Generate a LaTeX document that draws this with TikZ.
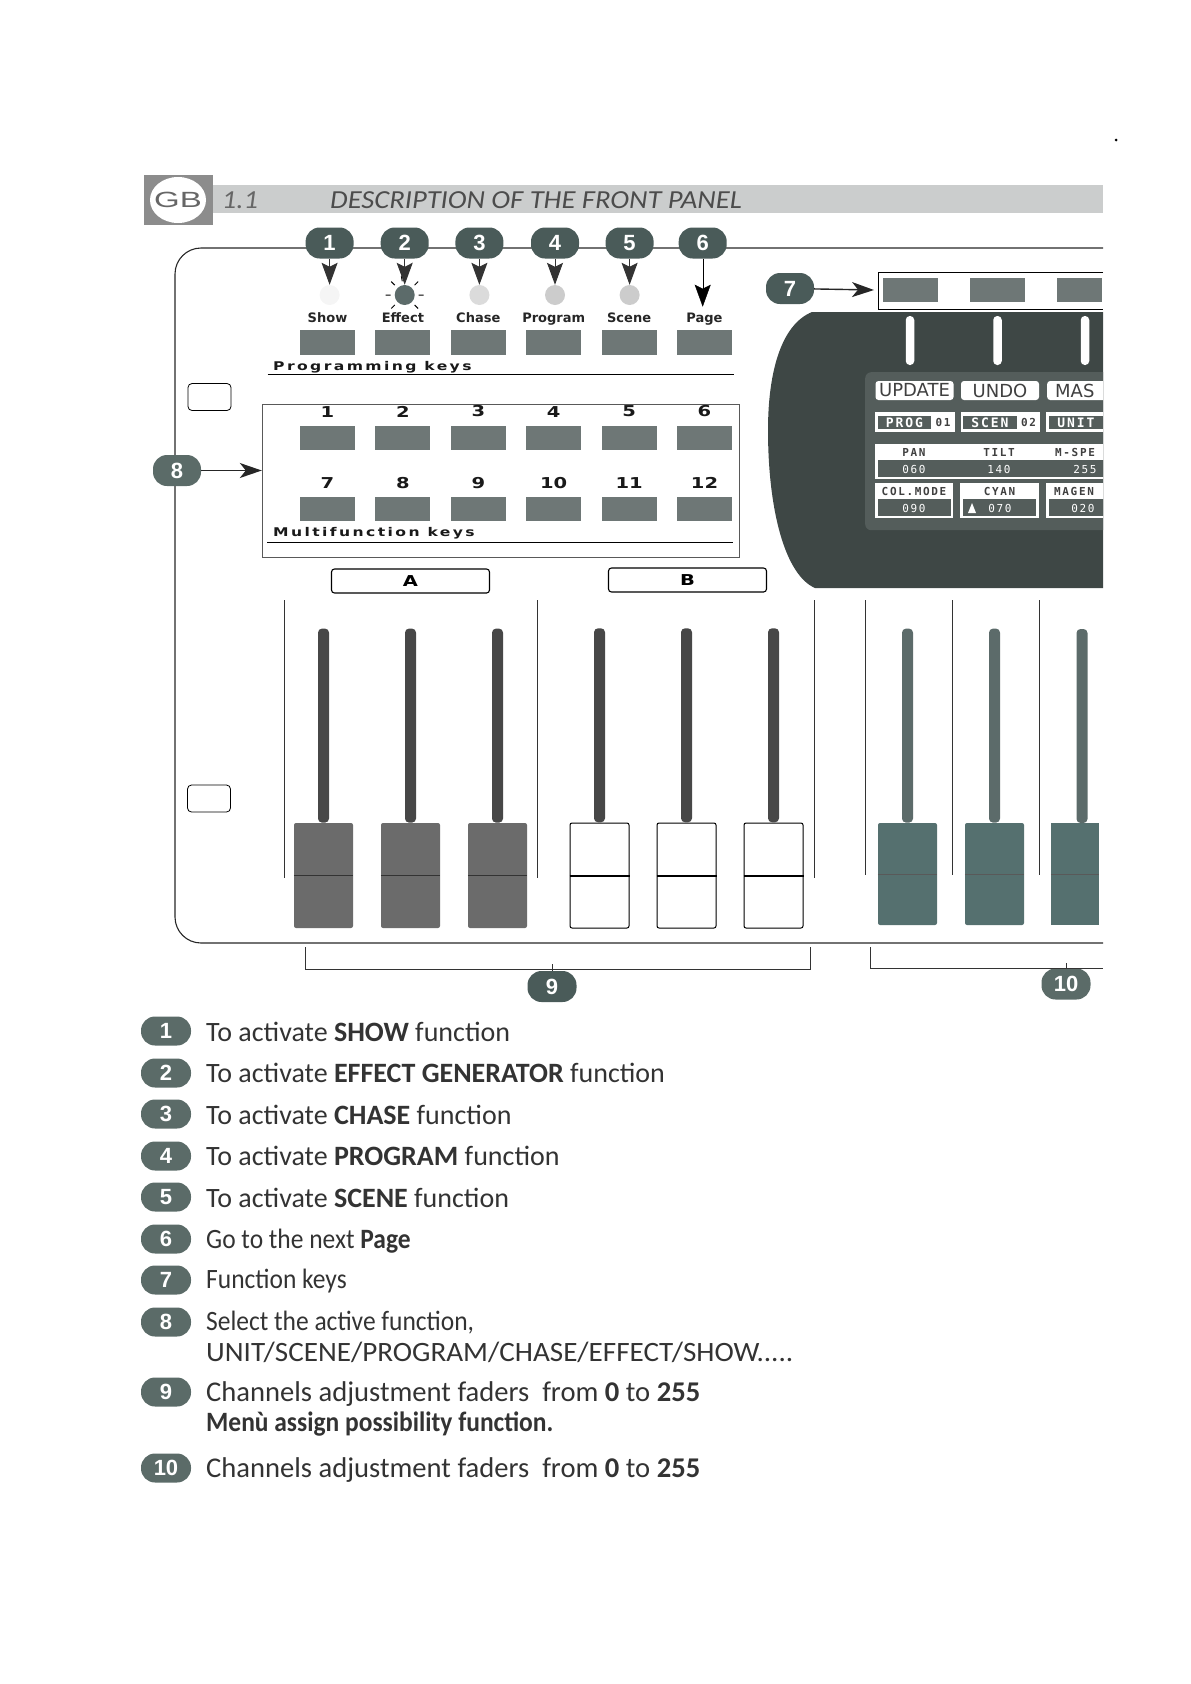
\documentclass[tikz,border=0pt]{standalone}
\usepackage{fontspec}
\usetikzlibrary{arrows.meta,positioning,shapes.geometric}
\setmainfont{Carlito}
\newfontfamily\badgefont{Liberation Sans}
\newfontfamily\keyfont[FakeStretch=1.3]{DejaVu Sans}
\newfontfamily\namefont{DejaVu Sans}
\newfontfamily\capfont[FakeStretch=1.3,LetterSpace=20]{DejaVu Sans}
\newfontfamily\lcdfont[LetterSpace=15]{DejaVu Sans Mono}
\newfontfamily\softfont{DejaVu Sans}
\newfontfamily\gbfont[FakeStretch=1.5]{Liberation Sans}
\newfontfamily\titlefont[FakeStretch=1.1]{Carlito}
\newfontfamily\narrowfont[FakeStretch=0.91]{Carlito}
\newfontfamily\widefont[FakeStretch=1.04]{Carlito}
\definecolor{slate}{HTML}{4A5B59}
\definecolor{legendslate}{HTML}{5B6B68}
\definecolor{keygray}{HTML}{6E7776}
\definecolor{band}{HTML}{CBCDCD}
\definecolor{bodydark}{HTML}{3E4745}
\definecolor{screendark}{HTML}{545D5B}
\definecolor{tealknob}{HTML}{55706F}

\begin{document}
\begin{tikzpicture}[x=1pt,y=-1pt,
          badge/.style={fill=slate, rounded corners=14pt, minimum width=48pt, minimum height=31pt, inner sep=0pt, text=white, font=\badgefont\bfseries\fontsize{22}{22}\selectfont},
          legendbadge/.style={badge, fill=legendslate, minimum width=50pt, minimum height=29pt},
          legendtext/.style={inner sep=0pt, anchor=west, text=black!80, font=\fontsize{28}{32}\selectfont},
          callout/.style={-{Stealth[length=22pt,width=16pt,inset=4pt]}, line width=1pt, draw=black!80},
          sidearrow/.style={-{Stealth[length=22pt,width=15pt,inset=6pt]}, line width=1.4pt, draw=black!85},
          keycap/.style={fill=keygray, minimum width=55pt, minimum height=24pt, inner sep=0pt},
          lamp/.style={circle, inner sep=0pt, minimum size=20pt},
          keyname/.style={inner sep=0pt, text height=10pt, text depth=3pt, text=black!85, font=\namefont\bfseries\fontsize{13}{13}\selectfont},
          keynum/.style={inner sep=0pt, text=black!90, font=\keyfont\bfseries\fontsize{15}{15}\selectfont},
          caption/.style={inner sep=0pt, anchor=west, text=black!90, font=\capfont\bfseries\fontsize{12}{12}\selectfont},
          slot/.style={draw=black, rounded corners=4pt, thick, minimum width=43pt, minimum height=27pt, inner sep=0pt},
          bank/.style={draw=black, rounded corners=3pt, line width=1.1pt, minimum width=158pt, minimum height=24pt, inner sep=0pt, font=\keyfont\bfseries\fontsize{15}{15}\selectfont},
          knob/.style={rounded corners=2pt, minimum width=59pt, minimum height=105pt, inner sep=0pt},
          track/.style={rounded corners=4pt, minimum width=11pt, minimum height=194pt, inner sep=0pt},
          sepline/.style={draw=black!80, line width=0.8pt},
          softkey/.style={fill=white, rounded corners=3pt, minimum width=78pt, minimum height=19pt, inner sep=0pt, text=black!75, font=\softfont\fontsize{18}{18}\selectfont},
          lcdlabel/.style={inner sep=0pt, text=black!75, font=\lcdfont\bfseries\fontsize{11}{11}\selectfont},
          lcdvalue/.style={inner sep=0pt, text=white, font=\lcdfont\fontsize{11}{11}\selectfont}]
        \useasboundingbox (0,0) rectangle (1191,1684);
        % title strip
        \node[fill=band, minimum width=891pt, minimum height=28pt, inner sep=0pt, anchor=west] (strip) at (212,199) {};
        \node[fill=black!45, minimum width=69pt, minimum height=50pt, inner sep=0pt] (gbbox) at (178,200) {};
        \node[ellipse, fill=white, minimum width=56pt, minimum height=46pt, inner sep=0pt] (gbdisc) at (178,200) {};
        \node[text=black!60, font=\gbfont\fontsize{22}{22}\selectfont] (gb) at (178,200) {GB};
        \node[text=black!60, font=\titlefont\itshape\fontsize{26}{26}\selectfont, inner sep=0pt] (secnum) at (240,200) {1.1};
        \node[text=black!70, font=\titlefont\itshape\fontsize{26}{26}\selectfont, inner sep=0pt, anchor=west] (sectitle) at (330,200) {DESCRIPTION OF THE FRONT PANEL};
        \fill[black] (1116,140) circle (1.5);
        % panel edge
        \draw[line width=1.1pt, draw=black!85] (1103,248) -- (205,248) [rounded corners=26pt] -- (175,248) -- (175,943) -- (1103,943);
        \node[slot] (hole1) at (209.5,397) {};
        \node[slot] (hole2) at (209,798.5) {};
        % programming keys
        \node[badge] (b1) at (329.6,243) {1};
        \node[badge] (b2) at (404.7,243) {2};
        \node[badge] (b3) at (479.4,243) {3};
        \node[badge] (b4) at (555,243) {4};
        \node[badge] (b5) at (629.6,243) {5};
        \node[badge] (b6) at (702.7,243) {6};
        \node[lamp, fill=black!4] (led1) at (329.6,295) {};
        \node[lamp, fill=slate!90] (led2) at (404.7,295) {};
        \node[lamp, fill=black!14] (led3) at (479.4,295) {};
        \node[lamp, fill=black!20] (led4) at (555,295) {};
        \node[lamp, fill=black!20] (led5) at (629.6,295) {};
        \draw[line width=1pt] (led2) ++(0:14) -- ++(0:5) (led2) ++(45:14) -- ++(45:5) (led2) ++(135:14) -- ++(135:5) (led2) ++(180:14) -- ++(180:5) (led2) ++(225:14) -- ++(225:5) (led2) ++(315:14) -- ++(315:5) (led2) ++(260:14) -- ++(260:5);
        \node[keycap, minimum height=25pt] (p1) at (327.5,342.5) {};
        \node[keycap, minimum height=25pt, right=20pt of p1] (p2) {};
        \node[keycap, minimum height=25pt, right=20pt of p2] (p3) {};
        \node[keycap, minimum height=25pt, right=20pt of p3] (p4) {};
        \node[keycap, minimum height=25pt, right=20pt of p4] (p5) {};
        \node[keycap, minimum height=25pt, right=20pt of p5] (p6) {};
        \node[keyname, above=3.7pt of p1] (nshow) {Show};
        \node[keyname, above=3.7pt of p2] (neffect) {Effect};
        \node[keyname, above=3.7pt of p3] (nchase) {Chase};
        \node[keyname, above=3.7pt of p4] (nprogram) {Program};
        \node[keyname, above=3.7pt of p5] (nscene) {Scene};
        \node[keyname, above=3.7pt of p6] (npage) {Page};
        \draw[callout] (b1) -- (led1.north);
        \draw[callout] (b2) -- (led2.north);
        \draw[callout] (b3) -- (led3.north);
        \draw[callout] (b4) -- (led4.north);
        \draw[callout] (b5) -- (led5.north);
        \draw[callout, thin, draw=black, shorten >=6pt] (b6) -- (b6 |- npage.north);
        \node[caption] (progcap) at (273,367) {Programming keys};
        \coordinate (proglineL) at (267.5,374);
        \coordinate (proglineR) at (734,374);
        \draw[line width=0.9pt] (proglineL) -- (proglineR);
        % multifunction keys
        \node[draw=black!65, minimum width=477pt, minimum height=153pt, inner sep=0pt] (mbox) at (500.5,480.5) {};
        \node[keycap] (m1) at (327.5,437.5) {};
        \node[keycap, right=20pt of m1] (m2) {};
        \node[keycap, right=20pt of m2] (m3) {};
        \node[keycap, right=20pt of m3] (m4) {};
        \node[keycap, right=20pt of m4] (m5) {};
        \node[keycap, right=20pt of m5] (m6) {};
        \node[keycap] (m7) at (327.5,509) {};
        \node[keycap, right=20pt of m7] (m8) {};
        \node[keycap, right=20pt of m8] (m9) {};
        \node[keycap, right=20pt of m9] (m10) {};
        \node[keycap, right=20pt of m10] (m11) {};
        \node[keycap, right=20pt of m11] (m12) {};
        \node[keynum, above=8pt of m1] (n1) {1};
        \node[keynum, above=8pt of m2] (n2) {2};
        \node[keynum, above=8pt of m3] (n3) {3};
        \node[keynum, above=8pt of m4] (n4) {4};
        \node[keynum, above=8pt of m5] (n5) {5};
        \node[keynum, above=8pt of m6] (n6) {6};
        \node[keynum, above=8pt of m7] (n7) {7};
        \node[keynum, above=8pt of m8] (n8) {8};
        \node[keynum, above=8pt of m9] (n9) {9};
        \node[keynum, above=8pt of m10] (n10) {10};
        \node[keynum, above=8pt of m11] (n11) {11};
        \node[keynum, above=8pt of m12] (n12) {12};
        \node[caption] (multicap) at (273,533) {Multifunction keys};
        \coordinate (multilineL) at (267,542);
        \coordinate (multilineR) at (733,542);
        \draw[line width=0.9pt] (multilineL) -- (multilineR);
        \node[badge, fill=legendslate] (b8) at (177,470.5) {8};
        \draw[sidearrow] (b8) -- (mbox.west |- b8);
        \node[bank] (bankA) at (410.5,581) {A};
        \node[bank] (bankB) at (687.5,580) {B};
        % function keys and display
        \node[badge] (b7) at (790,288.5) {7};
        \node[keycap, fill=keygray, minimum height=24pt] (f1) at (910.5,290) {};
        \node[keycap, right=32pt of f1] (f2) {};
        \node[keycap, minimum width=45pt, anchor=east] (f3) at (1102,290) {};
        \draw[line width=0.7pt] (1103,272) -- (878,272) -- (878,309) -- (1103,309);
        \coordinate (ftip) at (874,290);
        \draw[sidearrow] (b7) -- (ftip);
        \fill[bodydark] (1103,312) -- (812,312) .. controls (780,325) and (768,375) .. (768,430) .. controls (768,510) and (785,575) .. (815,588) -- (1103,588) -- cycle;
        \node[fill=white, rounded corners=4pt, minimum width=8.5pt, minimum height=49pt, inner sep=0pt] (mark1) at (910,340.5) {};
        \node[fill=white, rounded corners=4pt, minimum width=8.5pt, minimum height=49pt, inner sep=0pt] (mark2) at (997.5,340.5) {};
        \node[fill=white, rounded corners=4pt, minimum width=8.5pt, minimum height=49pt, inner sep=0pt] (mark3) at (1085,340.5) {};
        \begin{scope}
          \clip (860,300) rectangle (1103,600);
          \node[fill=screendark, rounded corners=6pt, minimum width=260pt, minimum height=158pt, inner sep=0pt, anchor=north west] (screen) at (865,372) {};
          \node[softkey] (upd) at (914.5,390.5) {UPDATE};
          \node[softkey] (und) at (1000,390.5) {UNDO};
          \node[softkey, minimum width=78pt, anchor=west, text width=74pt, align=left] (mas) at (1047,390.5) {\ MAS};
          \fill[white] (875,412) rectangle (955,432);
          \fill[white] (961,412) rectangle (1040,432);
          \fill[white] (1046,412) rectangle (1110,432);
          \node[fill=screendark, minimum width=53pt, minimum height=13pt, inner sep=0pt, text=white, font=\lcdfont\bfseries\fontsize{13}{13}\selectfont] (prog) at (904.5,422.5) {PROG};
          \node[fill=screendark, minimum width=54pt, minimum height=13pt, inner sep=0pt, text=white, font=\lcdfont\bfseries\fontsize{13}{13}\selectfont] (scen) at (990,422.5) {SCEN};
          \node[fill=screendark, minimum width=54pt, minimum height=13pt, inner sep=0pt, text=white, font=\lcdfont\bfseries\fontsize{13}{13}\selectfont] (unit) at (1076,422.5) {UNIT};
          \node[lcdlabel] (prognum) at (943,422.5) {01};
          \node[lcdlabel] (scennum) at (1028.5,422.5) {02};
          \fill[white] (875,444) rectangle (1110,479);
          \fill[screendark] (878,460) rectangle (1110,477);
          \node[lcdlabel] (pan) at (914,452) {PAN};
          \node[lcdlabel] (tilt) at (999,452) {TILT};
          \node[lcdlabel, anchor=west] (mspe) at (1055,452) {M-SPE};
          \node[lcdvalue] (panval) at (914,469) {060};
          \node[lcdvalue] (tiltval) at (999,469) {140};
          \node[lcdvalue] (mspeval) at (1085,469) {255};
          \fill[white] (875,483) rectangle (953,518);
          \fill[white] (960,483) rectangle (1039,518);
          \fill[white] (1046,483) rectangle (1110,518);
          \fill[screendark] (878,499) rectangle (951,516);
          \fill[screendark] (963,499) rectangle (1036,516);
          \fill[screendark] (1049,499) rectangle (1110,516);
          \node[lcdlabel] (colmode) at (914,491) {COL.MODE};
          \node[lcdlabel] (cyan) at (999.5,491) {CYAN};
          \node[lcdlabel, anchor=west] (magen) at (1054,491) {MAGEN};
          \node[lcdvalue] (colval) at (914,508) {090};
          \fill[white] (972,503) -- (968,513) -- (976,513) -- cycle;
          \node[lcdvalue] (cyanval) at (1000,508) {070};
          \node[lcdvalue] (magenval) at (1083,508) {020};
        \end{scope}
        % faders
        \draw[sepline] (284,600) -- (284,878);
        \draw[sepline] (537,600) -- (537,878);
        \draw[sepline] (814,600) -- (814,878);
        \draw[sepline] (865,600) -- (865,875);
        \draw[sepline] (952,600) -- (952,875);
        \draw[sepline] (1039,600) -- (1039,875);
        \node[knob, fill=black!58] (k1) at (323.5,875.5) {};
        \node[knob, fill=black!58, right=27.6pt of k1] (k2) {};
        \node[knob, fill=black!58, right=27.6pt of k2] (k3) {};
        \node[knob, draw=black, line width=1pt, fill=white] (k4) at (599.5,875.5) {};
        \node[knob, draw=black, line width=1pt, fill=white, right=27pt of k4] (k5) {};
        \node[knob, draw=black, line width=1pt, fill=white, right=27pt of k5] (k6) {};
        \node[knob, fill=tealknob, minimum height=102pt] (k7) at (907.5,874) {};
        \node[knob, fill=tealknob, minimum height=102pt, right=27.6pt of k7] (k8) {};
        \node[knob, fill=tealknob, minimum height=102pt, minimum width=48pt, sharp corners] (k9) at (1075,874) {};
        \node[track, fill=black!72, above=0pt of k1] (t1) {};
        \node[track, fill=black!72, above=0pt of k2] (t2) {};
        \node[track, fill=black!72, above=0pt of k3] (t3) {};
        \node[track, fill=black!72, above=0pt of k4] (t4) {};
        \node[track, fill=black!72, above=0pt of k5] (t5) {};
        \node[track, fill=black!72, above=0pt of k6] (t6) {};
        \node[track, fill=slate!90, above=0pt of k7] (t7) {};
        \node[track, fill=slate!90, above=0pt of k8] (t8) {};
        \node[track, fill=slate!90] (t9) at (1082,726) {};
        \draw[black!80, line width=1pt] (k1.west) -- (k1.east);
        \draw[black!80, line width=1pt] (k2.west) -- (k2.east);
        \draw[black!80, line width=1pt] (k3.west) -- (k3.east);
        \draw[black, line width=2pt] (k4.west) -- (k4.east);
        \draw[black, line width=2pt] (k5.west) -- (k5.east);
        \draw[black, line width=2pt] (k6.west) -- (k6.east);
        \draw[black!65, line width=1pt] (k7.west) -- (k7.east);
        \draw[black!65, line width=1pt] (k8.west) -- (k8.east);
        \draw[black!65, line width=1pt] (k9.west) -- (k9.east);
        % brackets
        \node[badge, minimum width=49pt] (b9) at (552,986.5) {9};
        \node[badge, fill=legendslate, minimum width=49pt] (b10) at (1066,984) {10};
        \coordinate (brA) at (305,947);
        \coordinate (brB) at (810,947);
        \coordinate (brC) at (870,947);
        \coordinate (brD) at (1103,968);
        \coordinate (brE) at (810,969);
        \draw[sepline] (brA) |- (brE) -- (brB);
        \draw[sepline] (b9.north) -- ++(0,-7);
        \draw[sepline] (brC) |- (brD);
        \draw[sepline] (b10.north) -- ++(0,-5);
        % legend
        \node[legendbadge] (l1) at (166,1031) {1};
        \node[legendbadge] (l2) at (166,1073) {2};
        \node[legendbadge] (l3) at (166,1114) {3};
        \node[legendbadge] (l4) at (166,1156) {4};
        \node[legendbadge] (l5) at (166,1197) {5};
        \node[legendbadge] (l6) at (166,1239) {6};
        \node[legendbadge] (l7) at (166,1280) {7};
        \node[legendbadge] (l8) at (166,1322) {8};
        \node[legendbadge] (l9) at (166,1392) {9};
        \node[legendbadge] (l10) at (166,1468) {10};
        \node[legendtext] (d1) at (206,1032) {To activate \textbf{SHOW} function};
        \node[legendtext] (d2) at (206,1073) {To activate \textbf{EFFECT GENERATOR} function};
        \node[legendtext] (d3) at (206,1115) {To activate \textbf{CHASE} function};
        \node[legendtext] (d4) at (206,1156) {To activate \textbf{PROGRAM} function};
        \node[legendtext] (d5) at (206,1198) {To activate \textbf{SCENE} function};
        \node[legendtext, font=\narrowfont\fontsize{28}{32}\selectfont] (d6) at (206,1241) {Go to the next \textbf{Page}};
        \node[legendtext, font=\narrowfont\fontsize{28}{32}\selectfont] (d7) at (206,1281) {Function keys};
        \node[legendtext, font=\narrowfont\fontsize{28}{32}\selectfont] (d8) at (206,1323) {Select the active function,};
        \node[legendtext, font=\widefont\fontsize{28}{32}\selectfont] (d8b) at (206,1352) {UNIT/SCENE/PROGRAM/CHASE/EFFECT/SHOW.....};
        \node[legendtext, font=\fontsize{28.6}{32}\selectfont] (d9) at (206,1394) {Channels adjustment faders\ \ from \textbf{0} to \textbf{255}};
        \node[legendtext, font=\narrowfont\fontsize{28}{32}\selectfont] (d9b) at (206,1424) {\textbf{Menù assign possibility function.}};
        \node[legendtext, font=\fontsize{28.6}{32}\selectfont] (d10) at (206,1470) {Channels adjustment faders\ \ from \textbf{0} to \textbf{255}};
      \end{tikzpicture}
\end{document}
